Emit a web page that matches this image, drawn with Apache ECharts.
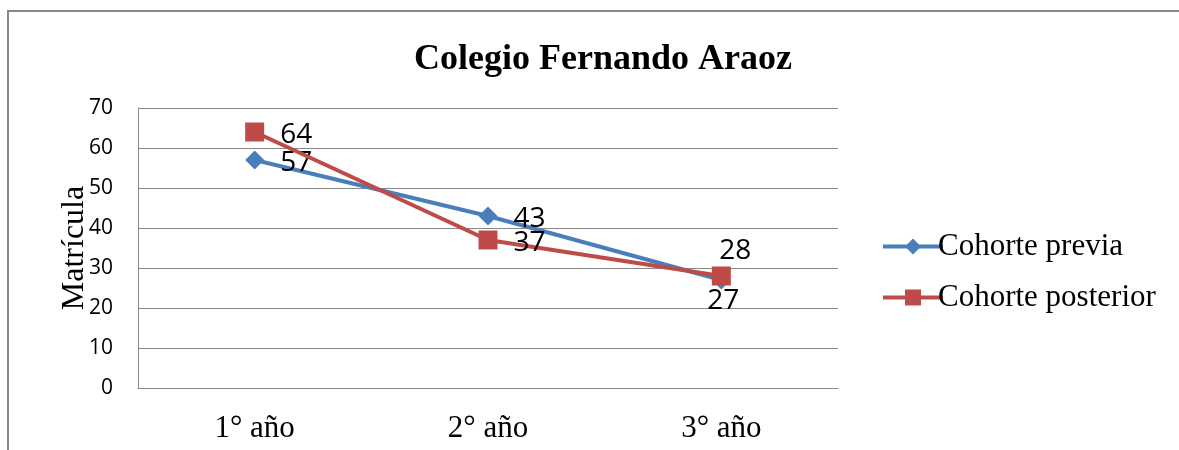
<!DOCTYPE html>
<html>
<head>
<meta charset="utf-8">
<script src="https://cdn.jsdelivr.net/npm/echarts@6/dist/echarts.min.js"></script>
<style>
  html, body { margin: 0; padding: 0; background: #fff; }
  #main { width: 1179px; height: 450px; }
</style>
</head>
<body>
<div id="main"></div>
<script>
// data
const categories = ["1° año", "2° año", "3° año"];
const previa = [57, 43, 27];
const posterior = [64, 37, 28];
const seriesNames = ["Cohorte previa", "Cohorte posterior"];

const serif = "Liberation Serif";
const sans = "Open Sans";

// label placement per point (kept separate from the values)
const previaPos = ["right", "right", "bottom"];
const posteriorPos = ["right", "right", "top"];

function withLabels(values, positions) {
  return values.map(function (v, i) {
    const p = positions[i];
    let label = { position: p, distance: 16, offset: [0, 3] };
    if (p === "top") label = { position: p, distance: 1, offset: [14, 0] };
    if (p === "bottom") label = { position: p, distance: -2, offset: [2, 0] };
    return { value: v, label: label };
  });
}

const chart = echarts.init(document.getElementById("main"));

chart.setOption({
  animation: false,
  title: {
    text: "Colegio Fernando Araoz",
    left: 598,
    textAlign: "center",
    top: 37,
    textStyle: { fontFamily: serif, fontSize: 36, fontWeight: "bold", color: "#000" },
  },
  graphic: [
    {
      type: "rect",
      shape: { x: 8, y: 11, width: 1300, height: 600 },
      style: { fill: "none", stroke: "#888", lineWidth: 2 },
      silent: true,
    },
  ],
  legend: {
    orient: "vertical",
    left: 876,
    top: 226,
    itemWidth: 60,
    itemHeight: 20,
    itemGap: 20,
    lineStyle: { width: 4 },
    textStyle: { fontFamily: serif, fontSize: 31, color: "#000", padding: [0, 0, 0, -10] },
    data: seriesNames,
  },
  grid: { left: 138, right: 341, top: 108, bottom: 62 },
  xAxis: {
    type: "category",
    data: categories,
    boundaryGap: true,
    axisLine: { lineStyle: { color: "#888", width: 1 } },
    axisTick: { show: false },
    axisLabel: { fontFamily: serif, fontSize: 31, color: "#000", margin: 25 },
  },
  yAxis: {
    type: "value",
    min: 0,
    max: 70,
    interval: 10,
    name: "Matrícula",
    nameLocation: "middle",
    nameRotate: 90,
    nameGap: 47,
    nameMoveOverlap: false,
    nameTextStyle: { fontFamily: serif, fontSize: 32, color: "#000" },
    axisLine: { show: true, lineStyle: { color: "#888", width: 1 } },
    axisTick: { show: false },
    axisLabel: { fontFamily: sans, fontSize: 21, color: "#000", margin: 25 },
    splitLine: { lineStyle: { color: "#888", width: 1 } },
  },
  series: [
    {
      name: seriesNames[0],
      type: "line",
      data: withLabels(previa, previaPos),
      symbol: "diamond",
      symbolSize: 19,
      lineStyle: { color: "#4A7EBB", width: 4 },
      itemStyle: { color: "#4A7EBB" },
      label: { show: true, fontFamily: sans, fontSize: 28, color: "#000" },
      z: 2,
    },
    {
      name: seriesNames[1],
      type: "line",
      data: withLabels(posterior, posteriorPos),
      symbol: "rect",
      symbolSize: 19,
      lineStyle: { color: "#BE4B48", width: 4 },
      itemStyle: { color: "#BE4B48" },
      label: { show: true, fontFamily: sans, fontSize: 28, color: "#000" },
      z: 3,
    },
  ],
});
</script>
</body>
</html>
